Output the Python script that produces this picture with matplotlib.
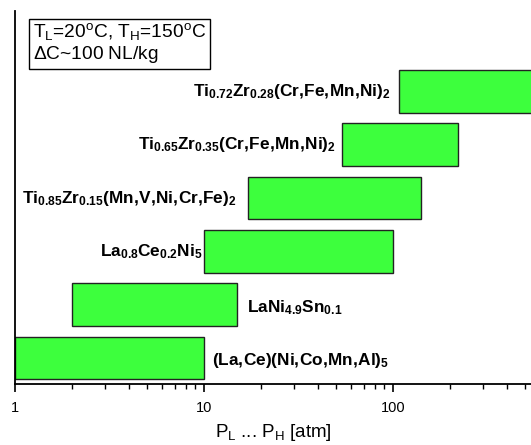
import numpy as np
import matplotlib
matplotlib.use('Agg')
import matplotlib.pyplot as plt
from matplotlib.ticker import LogLocator, NullFormatter, FixedFormatter, FixedLocator

plt.rcParams['font.family'] = ['Liberation Sans', 'DejaVu Sans']
plt.rcParams['mathtext.fontset'] = 'custom'
plt.rcParams['mathtext.rm'] = 'Liberation Sans'
plt.rcParams['mathtext.it'] = 'Liberation Sans:italic'
plt.rcParams['mathtext.bf'] = 'Liberation Sans:bold'

# alloys, bottom to top
alloys = [r'(La,Ce)(Ni,Co,Mn,Al)_5',
          r'LaNi_{4.9}Sn_{0.1}',
          r'La_{0.8}Ce_{0.2}Ni_5',
          r'Ti_{0.85}Zr_{0.15}(Mn,V,Ni,Cr,Fe)_2',
          r'Ti_{0.65}Zr_{0.35}(Cr,Fe,Mn,Ni)_2',
          r'Ti_{0.72}Zr_{0.28}(Cr,Fe,Mn,Ni)_2']
p_low = [1.0, 2.0, 10.0, 17.0, 54.0, 108.0]
p_high = [10.0, 15.0, 100.0, 140.0, 220.0, 700.0]
label_side = ['right', 'right', 'left', 'left', 'left', 'left']
label_gap = [6, 7, 1, 8, 5, 6]

fig = plt.figure(figsize=(5.31, 4.45), dpi=100)
ax = fig.add_axes([15/531, 61/445, 1 - 15/531, (384 - 11)/445])

y = np.arange(len(alloys))
widths = np.array(p_high) - np.array(p_low)
ax.barh(y, widths, left=p_low, height=0.8, color='#3dff3d',
        edgecolor='#222222', linewidth=1.0)

for i, name in enumerate(alloys):
    # no extra space after commas
    txt = r'$\mathbf{' + name.replace(',', r',\!') + '}$'
    if label_side[i] == 'right':
        ax.annotate(txt, (p_high[i], y[i]), xytext=(label_gap[i], -2),
                    textcoords='offset points', ha='left', va='center',
                    fontsize=12.4)
    else:
        ax.annotate(txt, (p_low[i], y[i]), xytext=(-label_gap[i], 0),
                    textcoords='offset points', ha='right', va='center',
                    fontsize=12.4)

ax.set_xscale('log')
ax.set_xlim(1, 537)
ax.set_ylim(-0.49, 6.51)

ax.xaxis.set_major_locator(FixedLocator([1, 10, 100]))
ax.xaxis.set_major_formatter(FixedFormatter(['1', '10', '100']))
ax.xaxis.set_minor_locator(LogLocator(base=10, subs=np.arange(2, 10)))
ax.xaxis.set_minor_formatter(NullFormatter())
ax.tick_params(axis='x', which='major', direction='out', length=6, width=1.2,
               labelsize=10.5, pad=6)
ax.tick_params(axis='x', which='minor', direction='out', length=3.5, width=1.0)
ax.set_yticks([])

for s in ['top', 'right']:
    ax.spines[s].set_visible(False)
for s in ['left', 'bottom']:
    ax.spines[s].set_linewidth(1.3)

ax.set_xlabel(r'P$_\mathrm{L}$ ... P$_\mathrm{H}$ [atm]', fontsize=13.5, labelpad=5)

ax.text(0.035, 0.972, 'T$_\\mathrm{L}$=20$^\\mathrm{o}$C, T$_\\mathrm{H}$=150$^\\mathrm{o}$C\n'
        '$\\Delta$C~100 NL/kg', transform=ax.transAxes, ha='left', va='top',
        fontsize=13.8, linespacing=1.12,
        bbox=dict(boxstyle='square,pad=0.2', facecolor='white',
                  edgecolor='black', linewidth=1.0))

fig.savefig('out.png', dpi=100)
